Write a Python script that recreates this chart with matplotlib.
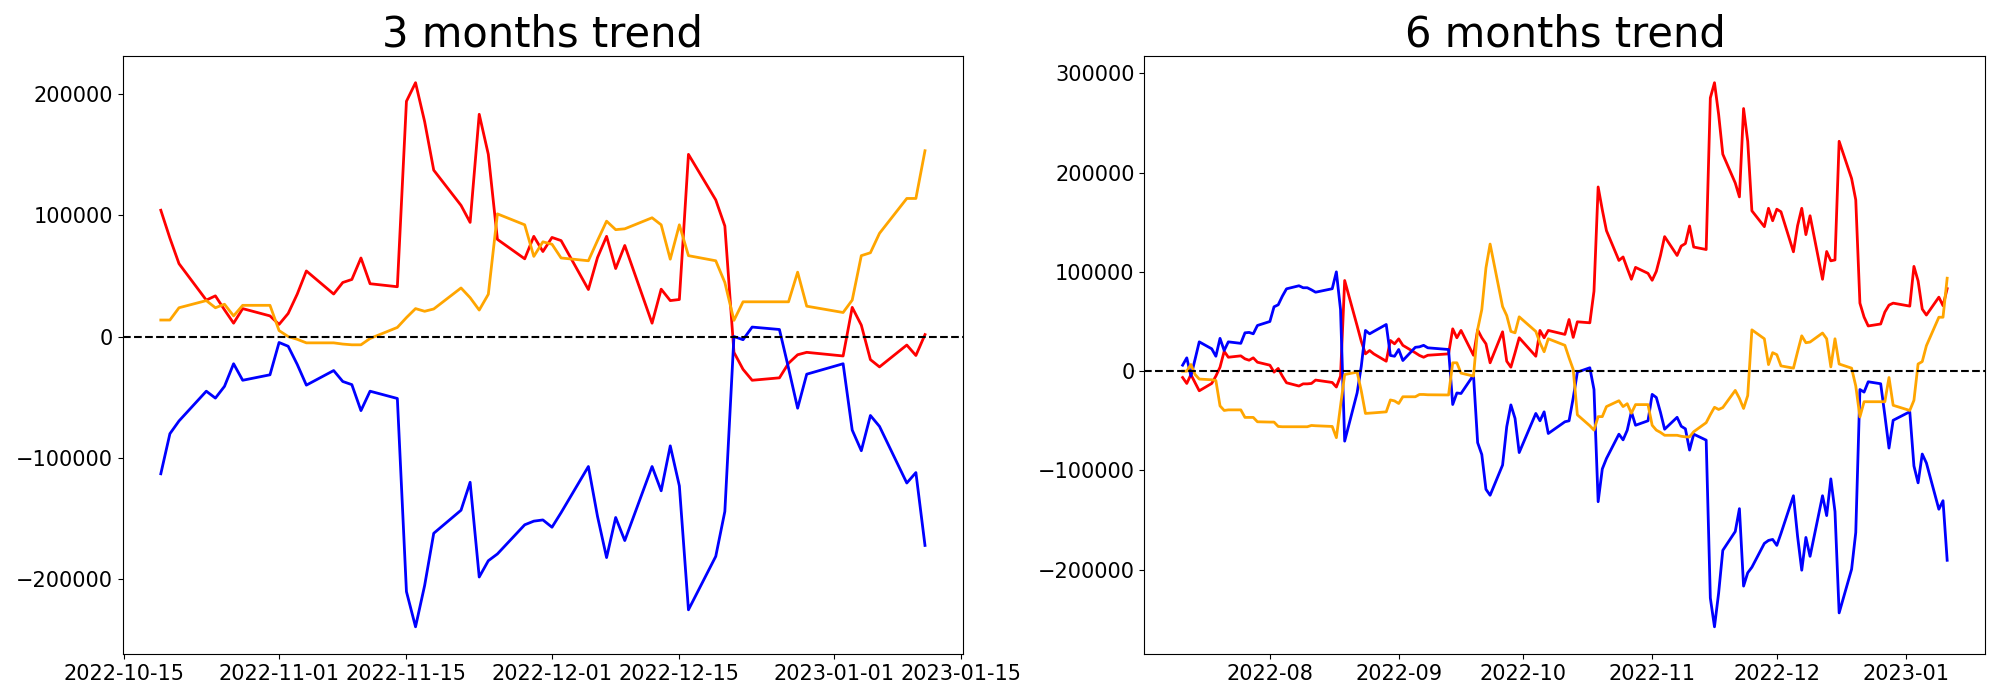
import matplotlib
matplotlib.use("Agg")
import matplotlib.pyplot as plt
import pandas as pd

# ---- 3 months (cumulative from 2022-10-19), values in thousands ----
dates_3m = [
    "2022-10-19", "2022-10-20", "2022-10-21", "2022-10-24", "2022-10-25", "2022-10-26",
    "2022-10-27", "2022-10-28", "2022-10-31", "2022-11-01", "2022-11-02", "2022-11-03",
    "2022-11-04", "2022-11-07", "2022-11-08", "2022-11-09", "2022-11-10", "2022-11-11",
    "2022-11-14", "2022-11-15", "2022-11-16", "2022-11-17", "2022-11-18", "2022-11-21",
    "2022-11-22", "2022-11-23", "2022-11-24", "2022-11-25", "2022-11-28", "2022-11-29",
    "2022-11-30", "2022-12-01", "2022-12-02", "2022-12-05", "2022-12-06", "2022-12-07",
    "2022-12-08", "2022-12-09", "2022-12-12", "2022-12-13", "2022-12-14", "2022-12-15",
    "2022-12-16", "2022-12-19", "2022-12-20", "2022-12-21", "2022-12-22", "2022-12-23",
    "2022-12-26", "2022-12-27", "2022-12-28", "2022-12-29", "2023-01-02", "2023-01-03",
    "2023-01-04", "2023-01-05", "2023-01-06", "2023-01-09", "2023-01-10", "2023-01-11",
]
red_3m = [
    104, 81, 60, 30, 33.5, 22, 11, 23, 17, 10, 19, 35,
    54, 35, 44.5, 47, 64.7, 43.5, 41, 193.7, 209, 177, 137, 108,
    94, 183, 150, 80, 64, 82.5, 70, 81.6, 79, 38.7, 65, 82.5,
    56, 75, 11, 39, 29.6, 30.5, 150, 112.5, 91, -13, -27, -36,
    -34, -22, -15, -13, -16, 24, 9.4, -19, -25, -7, -15.6, 1.6,
]
blue_3m = [
    -113, -80, -69.5, -45, -50.7, -41, -22.4, -36, -31.5, -4.9, -8, -23,
    -40, -28, -37, -39.6, -61, -45, -51, -210, -239, -205, -162, -143,
    -120, -198, -184.6, -179, -155, -152, -151, -157, -145, -107, -148, -182,
    -149, -168, -107, -127, -90, -123, -225, -181, -144, 0, -2.6, 7.8,
    5.8, -26, -59, -31, -22.4, -77, -94, -65, -74, -120.6, -112, -172,
]
orange_3m = [
    13.6, 13.6, 23.7, 29.6, 23.7, 26.6, 17, 25.7, 25.7, 4.9, 0, -2.3,
    -5.2, -5.2, -6.2, -6.8, -6.8, -1.6, 7.5, 15.6, 23, 20.8, 22.7, 40,
    32, 21.8, 34.8, 101, 92, 66, 78, 76, 64.7, 62.4, 79, 95,
    88, 88.7, 97.8, 92, 63.7, 92, 66.6, 62.4, 44.5, 13.3, 28.6, 28.6,
    28.6, 28.6, 53, 25, 19.8, 30, 66.6, 69, 85, 113.7, 113.7, 153,
]

# ---- 6 months (cumulative from 2022-07-11), values in thousands ----
dates_6m_early = [
    "2022-07-11", "2022-07-12", "2022-07-13", "2022-07-14", "2022-07-15",
    "2022-07-18", "2022-07-19", "2022-07-20", "2022-07-21", "2022-07-22",
    "2022-07-25", "2022-07-26", "2022-07-27", "2022-07-28", "2022-07-29",
    "2022-08-01", "2022-08-02", "2022-08-03", "2022-08-04", "2022-08-05",
    "2022-08-08", "2022-08-09", "2022-08-10", "2022-08-11", "2022-08-12",
    "2022-08-16", "2022-08-17", "2022-08-18", "2022-08-19",
    "2022-08-22", "2022-08-23", "2022-08-24", "2022-08-25", "2022-08-26",
    "2022-08-29", "2022-08-30", "2022-08-31", "2022-09-01", "2022-09-02",
    "2022-09-05", "2022-09-06", "2022-09-07", "2022-09-08",
    "2022-09-13", "2022-09-14", "2022-09-15", "2022-09-16",
    "2022-09-19", "2022-09-20", "2022-09-21", "2022-09-22", "2022-09-23",
    "2022-09-26", "2022-09-27", "2022-09-28", "2022-09-29", "2022-09-30",
    "2022-10-04", "2022-10-05", "2022-10-06", "2022-10-07",
    "2022-10-11", "2022-10-12", "2022-10-13", "2022-10-14",
    "2022-10-17", "2022-10-18",
]
dates_6m = dates_6m_early + dates_3m

red_6m = [
    -6.4, -12.4, -3.4, -11.7, -19.8, -12.4, -5, 4, 20, 14,
    15.4, 12.4, 11, 13.4, 9, 6, -1, 2.7, -5, -11.7,
    -15, -12.8, -12.8, -12.4, -9, -11.4, -16, -5, 91.3,
    45.6, 30, 17.4, 20.8, 17.4, 10, 30.9, 27.5, 32.5, 26,
    18.5, 15.8, 14, 16, 17.4, 42.6, 33.6, 41,
    16, 41.6, 33.6, 27.5, 8.4, 39.6, 10, 4, 18.5, 33.6,
    15, 41, 33.6, 41, 37, 52, 34, 49.7, 48.7, 80.5,
    185.5, 162.5, 141.5, 111.5, 115, 103.5, 92.5, 104.5, 98.5, 91.5, 100.5, 116.5,
    135.5, 116.5, 126, 128.5, 146.2, 125, 122.5, 275.2, 290.5, 258.5, 218.5, 189.5,
    175.5, 264.5, 231.5, 161.5, 145.5, 164, 151.5, 163.1, 160.5, 120.2, 146.5, 164,
    137.5, 156.5, 92.5, 120.5, 111.1, 112, 231.5, 194, 172.5, 68.5, 54.5, 45.5,
    47.5, 59.5, 66.5, 68.5, 65.5, 105.5, 90.9, 62.5, 56.5, 74.5, 65.9, 83.1,
]
blue_6m = [
    6, 13.4, -5, 12, 29.5, 22.5, 15, 33, 20.8, 29.5,
    28, 38.6, 39, 37.6, 46, 50, 64.8, 66.8, 75.5, 82.9,
    86, 84, 84, 81.9, 79.5, 83, 100, 62, -70.5,
    -21.8, 5, 41, 37.6, 40, 47, 15.8, 15, 21.8, 10.7,
    24, 24.5, 26, 23.5, 21.8, -33.6, -22, -22.5,
    -4, -72, -84, -119, -125, -94.6, -56, -34, -47.6, -82,
    -42.6, -50, -41, -62.8, -51, -50, -27, -1, 3.4, -18.5,
    -131.5, -98.5, -88, -63.5, -69.2, -59.5, -40.9, -54.5, -50, -23.4, -26.5, -41.5,
    -58.5, -46.5, -55.5, -58.1, -79.5, -63.5, -69.5, -228.5, -257.5, -223.5, -180.5, -161.5,
    -138.5, -216.5, -203.1, -197.5, -173.5, -170.5, -169.5, -175.5, -163.5, -125.5, -166.5, -200.5,
    -167.5, -186.5, -125.5, -145.5, -108.5, -141.5, -243.5, -199.5, -162.5, -18.5, -21.1, -10.7,
    -12.7, -44.5, -77.5, -49.5, -40.9, -95.5, -112.5, -83.5, -92.5, -139.1, -130.5, -190.5,
]
orange_6m = [
    0, 0, 6.7, -3.4, -8, -8.7, -9.4, -35, -39.6, -39,
    -39, -46.6, -46.6, -46.6, -51, -51.3, -51.3, -55.7, -56, -56,
    -56, -56, -56, -54.7, -55, -55.7, -67, -35, -3.4,
    -1, -20, -42.6, -42.3, -42, -41, -29, -30, -32.6, -25.8,
    -25.8, -23.5, -23.5, -23.8, -24, 8.4, 8.4, -2,
    -5, 42, 62, 104, 128, 65, 56, 40, 38.6, 54.7,
    40, 28.5, 19.5, 32.6, 26, 13.4, 1.7, -44, -55, -59.4,
    -45.8, -45.8, -35.7, -29.8, -35.7, -32.8, -42.4, -33.7, -33.7, -54.5, -59.4, -61.7,
    -64.6, -64.6, -65.6, -66.2, -66.2, -61, -51.9, -43.8, -36.4, -38.6, -36.7, -19.4,
    -27.4, -37.6, -24.6, 41.6, 32.6, 6.6, 18.6, 16.6, 5.3, 3, 19.6, 35.6,
    28.6, 29.3, 38.4, 32.6, 4.3, 32.6, 7.2, 3, -14.9, -46.1, -30.8, -30.8,
    -30.8, -30.8, -6.4, -34.4, -39.6, -29.4, 7.2, 9.6, 25.6, 54.3, 54.3, 93.6,
]

titles = ["3 months trend", "6 months trend"]
UNIT = 1000

fig = plt.figure(figsize=(20, 7), dpi=100)
ax1 = fig.add_axes([0.0613, 0.0657, 0.4203, 0.855])
ax2 = fig.add_axes([0.5722, 0.0657, 0.4205, 0.855])

for ax, d, r, b, o, t in [
    (ax1, dates_3m, red_3m, blue_3m, orange_3m, titles[0]),
    (ax2, dates_6m, red_6m, blue_6m, orange_6m, titles[1]),
]:
    x = pd.to_datetime(d)
    ax.plot(x, [v * UNIT for v in r], color="red", lw=2)
    ax.plot(x, [v * UNIT for v in b], color="blue", lw=2)
    ax.plot(x, [v * UNIT for v in o], color="orange", lw=2)
    ax.axhline(0, color="black", linestyle="--", lw=1.5)
    ax.set_title(t, fontsize=30)
    ax.tick_params(labelsize=15)

fig.savefig("out.png", dpi=100)
